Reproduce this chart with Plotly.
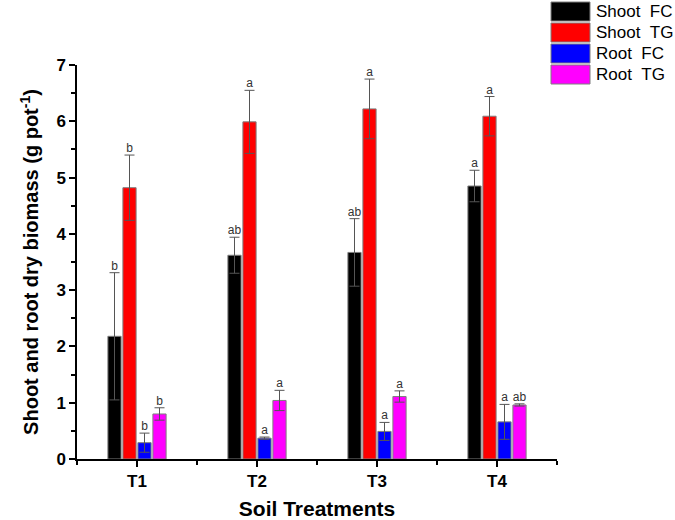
import plotly.graph_objects as go

categories = ["T1", "T2", "T3", "T4"]
series_names = ["Shoot\u00a0\u00a0FC", "Shoot\u00a0\u00a0TG", "Root\u00a0\u00a0FC", "Root\u00a0\u00a0TG"]
shoot_fc = [2.18, 3.62, 3.67, 4.85]
shoot_fc_err = [1.13, 0.32, 0.60, 0.28]
shoot_tg = [4.82, 5.99, 6.22, 6.09]
shoot_tg_err = [0.58, 0.56, 0.53, 0.35]
root_fc = [0.29, 0.37, 0.49, 0.66]
root_fc_err = [0.17, 0.02, 0.16, 0.31]
root_tg = [0.80, 1.04, 1.11, 0.96]
root_tg_err = [0.11, 0.18, 0.10, 0.02]
letters_shoot_fc = ["b", "ab", "ab", "a"]
letters_shoot_tg = ["b", "a", "a", "a"]
letters_root_fc = ["b", "a", "a", "a"]
letters_root_tg = ["b", "a", "a", "ab"]
colors = ["#000000", "#ff0000", "#0000ff", "#ff00ff"]

values = [shoot_fc, shoot_tg, root_fc, root_tg]
errors = [shoot_fc_err, shoot_tg_err, root_fc_err, root_tg_err]
letters = [letters_shoot_fc, letters_shoot_tg, letters_root_fc, letters_root_tg]

FONT = "Liberation Sans, Arial, sans-serif"
W, H = 675, 520
ML, MR, MT, MB = 77, 118, 65, 61
BARGAP, GROUPGAP = 0.5, 0.12
xpos = list(range(len(categories)))
nser = len(values)
slot = (1 - BARGAP) / nser

fig = go.Figure()
for k in range(nser):
    fig.add_trace(go.Bar(
        x=xpos, y=values[k], name=series_names[k],
        marker=dict(color=colors[k], line=dict(color="#7f7f7f", width=1)),
        error_y=dict(type="data", array=errors[k], color="#555555", thickness=1, width=5),
        showlegend=False,
    ))
    offs = (k - (nser - 1) / 2) * slot
    fig.add_trace(go.Scatter(
        x=[i + offs for i in xpos],
        y=[v + e for v, e in zip(values[k], errors[k])],
        mode="text", text=letters[k], textposition="top center",
        textfont=dict(family=FONT, size=12, color="#333333"),
        showlegend=False, hoverinfo="skip", cliponaxis=False,
    ))

# custom legend (rectangular swatches)
pw = W - ML - MR
ph = H - MT - MB
def px2x(p):
    return (p - ML) / pw
def px2y(p):
    return (H - MB - p) / ph

shapes = []
annotations = []
row_tops = [2, 23, 44, 65]
for k in range(nser):
    t = row_tops[k]
    shapes.append(dict(type="rect", xref="paper", yref="paper",
                       x0=px2x(551), x1=px2x(590), y0=px2y(t + 19), y1=px2y(t),
                       fillcolor=colors[k], line=dict(color="#7f7f7f", width=1)))
    annotations.append(dict(xref="paper", yref="paper", x=px2x(594), y=px2y(t + 9.5),
                            text=series_names[k], showarrow=False, xanchor="left", yanchor="middle",
                            font=dict(family=FONT, size=17, color="#000000")))

fig.update_layout(
    width=W, height=H,
    margin=dict(l=ML, r=MR, t=MT, b=MB, autoexpand=False),
    paper_bgcolor="white", plot_bgcolor="white",
    barmode="group", bargap=BARGAP, bargroupgap=GROUPGAP,
    font=dict(family=FONT, color="#000000"),
    shapes=shapes, annotations=annotations,
    xaxis=dict(
        range=[-0.5, 3.5], tickmode="array", tickvals=xpos, ticktext=categories,
        showline=True, linecolor="#000000", linewidth=1.5,
        ticks="outside", ticklen=6, tickwidth=1.5, tickcolor="#000000",
        minor=dict(tickmode="linear", tick0=0.5, dtick=1, ticks="outside", ticklen=4, tickwidth=1.5, tickcolor="#000000"),
        showgrid=False, zeroline=False,
        tickfont=dict(size=17, family=FONT, color="#000000", weight="bold"),
        title=dict(text="Soil Treatments", font=dict(size=21, family=FONT, weight="bold"), standoff=12),
    ),
    yaxis=dict(
        range=[0, 7], dtick=1, tick0=0,
        showline=True, linecolor="#000000", linewidth=1.5,
        ticks="outside", ticklen=6, tickwidth=1.5, tickcolor="#000000",
        minor=dict(dtick=0.5, ticks="outside", ticklen=4, tickwidth=1.5, tickcolor="#000000"),
        showgrid=False, zeroline=False,
        tickfont=dict(size=17, family=FONT, color="#000000", weight="bold"),
        title=dict(text="Shoot and root dry biomass (g pot<sup>-1</sup>)", font=dict(size=20, family=FONT, weight="bold"), standoff=12),
    ),
)

fig.write_html("out.html", config={"displayModeBar": False},
               post_script="document.body.style.margin='0';document.body.style.overflow='hidden';")
